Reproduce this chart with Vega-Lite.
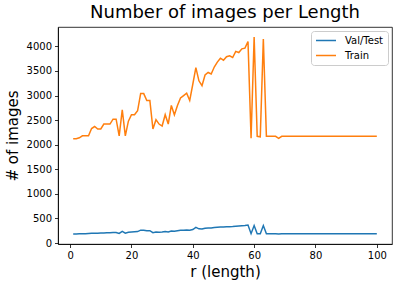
{
  "$schema": "https://vega.github.io/schema/vega-lite/v6.json",
  "width": 334,
  "height": 217,
  "autosize": {"type": "none"},
  "padding": {"left": 58, "top": 27, "right": 8, "bottom": 43},
  "background": "white",
  "config": {
    "font": "DejaVu Sans",
    "view": {"stroke": "black", "strokeWidth": 0.8},
    "axis": {"grid": false, "domainColor": "black", "domainWidth": 0.8, "tickColor": "black", "tickSize": 3.5, "tickWidth": 0.8, "labelFontSize": 10, "labelColor": "black", "titleFontSize": 15, "titleFontWeight": "normal", "titleColor": "black", "labelPadding": 3}
  },
  "title": {"text": "Number of images per Length", "fontSize": 18, "fontWeight": "normal", "color": "black", "offset": 5},
  "data": {"values": [
    {"r":1,"s":"Val/Test","n":185},{"r":2,"s":"Val/Test","n":185},{"r":3,"s":"Val/Test","n":187},{"r":4,"s":"Val/Test","n":190},{"r":5,"s":"Val/Test","n":190},
    {"r":6,"s":"Val/Test","n":193},{"r":7,"s":"Val/Test","n":197},{"r":8,"s":"Val/Test","n":200},{"r":9,"s":"Val/Test","n":200},{"r":10,"s":"Val/Test","n":203},
    {"r":11,"s":"Val/Test","n":205},{"r":12,"s":"Val/Test","n":207},{"r":13,"s":"Val/Test","n":210},{"r":14,"s":"Val/Test","n":212},{"r":15,"s":"Val/Test","n":215},
    {"r":16,"s":"Val/Test","n":195},{"r":17,"s":"Val/Test","n":235},{"r":18,"s":"Val/Test","n":200},{"r":19,"s":"Val/Test","n":220},{"r":20,"s":"Val/Test","n":225},
    {"r":21,"s":"Val/Test","n":228},{"r":22,"s":"Val/Test","n":232},{"r":23,"s":"Val/Test","n":262},{"r":24,"s":"Val/Test","n":262},{"r":25,"s":"Val/Test","n":250},
    {"r":26,"s":"Val/Test","n":250},{"r":27,"s":"Val/Test","n":210},{"r":28,"s":"Val/Test","n":222},{"r":29,"s":"Val/Test","n":220},{"r":30,"s":"Val/Test","n":225},
    {"r":31,"s":"Val/Test","n":235},{"r":32,"s":"Val/Test","n":225},{"r":33,"s":"Val/Test","n":245},{"r":34,"s":"Val/Test","n":240},{"r":35,"s":"Val/Test","n":250},
    {"r":36,"s":"Val/Test","n":258},{"r":37,"s":"Val/Test","n":262},{"r":38,"s":"Val/Test","n":265},{"r":39,"s":"Val/Test","n":262},{"r":40,"s":"Val/Test","n":275},
    {"r":41,"s":"Val/Test","n":320},{"r":42,"s":"Val/Test","n":288},{"r":43,"s":"Val/Test","n":285},{"r":44,"s":"Val/Test","n":300},{"r":45,"s":"Val/Test","n":305},
    {"r":46,"s":"Val/Test","n":305},{"r":47,"s":"Val/Test","n":315},{"r":48,"s":"Val/Test","n":320},{"r":49,"s":"Val/Test","n":325},{"r":50,"s":"Val/Test","n":325},
    {"r":51,"s":"Val/Test","n":330},{"r":52,"s":"Val/Test","n":333},{"r":53,"s":"Val/Test","n":335},{"r":54,"s":"Val/Test","n":340},{"r":55,"s":"Val/Test","n":345},
    {"r":56,"s":"Val/Test","n":350},{"r":57,"s":"Val/Test","n":355},{"r":58,"s":"Val/Test","n":365},{"r":59,"s":"Val/Test","n":190},{"r":60,"s":"Val/Test","n":355},
    {"r":61,"s":"Val/Test","n":188},{"r":62,"s":"Val/Test","n":188},{"r":63,"s":"Val/Test","n":355},{"r":64,"s":"Val/Test","n":188},{"r":65,"s":"Val/Test","n":188},
    {"r":66,"s":"Val/Test","n":188},{"r":67,"s":"Val/Test","n":188},{"r":68,"s":"Val/Test","n":185},{"r":69,"s":"Val/Test","n":188},{"r":70,"s":"Val/Test","n":188},
    {"r":71,"s":"Val/Test","n":188},{"r":72,"s":"Val/Test","n":188},{"r":73,"s":"Val/Test","n":188},{"r":74,"s":"Val/Test","n":188},{"r":75,"s":"Val/Test","n":188},
    {"r":76,"s":"Val/Test","n":188},{"r":77,"s":"Val/Test","n":188},{"r":78,"s":"Val/Test","n":188},{"r":79,"s":"Val/Test","n":188},{"r":80,"s":"Val/Test","n":188},
    {"r":81,"s":"Val/Test","n":188},{"r":82,"s":"Val/Test","n":188},{"r":83,"s":"Val/Test","n":188},{"r":84,"s":"Val/Test","n":188},{"r":85,"s":"Val/Test","n":188},
    {"r":86,"s":"Val/Test","n":188},{"r":87,"s":"Val/Test","n":188},{"r":88,"s":"Val/Test","n":188},{"r":89,"s":"Val/Test","n":188},{"r":90,"s":"Val/Test","n":188},
    {"r":91,"s":"Val/Test","n":188},{"r":92,"s":"Val/Test","n":188},{"r":93,"s":"Val/Test","n":188},{"r":94,"s":"Val/Test","n":188},{"r":95,"s":"Val/Test","n":188},
    {"r":96,"s":"Val/Test","n":188},{"r":97,"s":"Val/Test","n":188},{"r":98,"s":"Val/Test","n":188},{"r":99,"s":"Val/Test","n":188},{"r":100,"s":"Val/Test","n":188},
    {"r":1,"s":"Train","n":2120},{"r":2,"s":"Train","n":2120},{"r":3,"s":"Train","n":2140},{"r":4,"s":"Train","n":2180},{"r":5,"s":"Train","n":2180},
    {"r":6,"s":"Train","n":2180},{"r":7,"s":"Train","n":2330},{"r":8,"s":"Train","n":2370},{"r":9,"s":"Train","n":2320},{"r":10,"s":"Train","n":2320},
    {"r":11,"s":"Train","n":2420},{"r":12,"s":"Train","n":2420},{"r":13,"s":"Train","n":2420},{"r":14,"s":"Train","n":2520},{"r":15,"s":"Train","n":2520},
    {"r":16,"s":"Train","n":2180},{"r":17,"s":"Train","n":2710},{"r":18,"s":"Train","n":2180},{"r":19,"s":"Train","n":2480},{"r":20,"s":"Train","n":2610},
    {"r":21,"s":"Train","n":2610},{"r":22,"s":"Train","n":2690},{"r":23,"s":"Train","n":3040},{"r":24,"s":"Train","n":3040},{"r":25,"s":"Train","n":2900},
    {"r":26,"s":"Train","n":2900},{"r":27,"s":"Train","n":2320},{"r":28,"s":"Train","n":2510},{"r":29,"s":"Train","n":2420},{"r":30,"s":"Train","n":2380},
    {"r":31,"s":"Train","n":2610},{"r":32,"s":"Train","n":2420},{"r":33,"s":"Train","n":2800},{"r":34,"s":"Train","n":2610},{"r":35,"s":"Train","n":2800},
    {"r":36,"s":"Train","n":2950},{"r":37,"s":"Train","n":3000},{"r":38,"s":"Train","n":3050},{"r":39,"s":"Train","n":2900},{"r":40,"s":"Train","n":3230},
    {"r":41,"s":"Train","n":3570},{"r":42,"s":"Train","n":3300},{"r":43,"s":"Train","n":3200},{"r":44,"s":"Train","n":3420},{"r":45,"s":"Train","n":3470},
    {"r":46,"s":"Train","n":3440},{"r":47,"s":"Train","n":3580},{"r":48,"s":"Train","n":3680},{"r":49,"s":"Train","n":3760},{"r":50,"s":"Train","n":3720},
    {"r":51,"s":"Train","n":3790},{"r":52,"s":"Train","n":3810},{"r":53,"s":"Train","n":3775},{"r":54,"s":"Train","n":3900},{"r":55,"s":"Train","n":3875},
    {"r":56,"s":"Train","n":3950},{"r":57,"s":"Train","n":3965},{"r":58,"s":"Train","n":4100},{"r":59,"s":"Train","n":2130},{"r":60,"s":"Train","n":4190},
    {"r":61,"s":"Train","n":2170},{"r":62,"s":"Train","n":2160},{"r":63,"s":"Train","n":4150},{"r":64,"s":"Train","n":2170},{"r":65,"s":"Train","n":2170},
    {"r":66,"s":"Train","n":2170},{"r":67,"s":"Train","n":2170},{"r":68,"s":"Train","n":2130},{"r":69,"s":"Train","n":2170},{"r":70,"s":"Train","n":2170},
    {"r":71,"s":"Train","n":2170},{"r":72,"s":"Train","n":2170},{"r":73,"s":"Train","n":2170},{"r":74,"s":"Train","n":2170},{"r":75,"s":"Train","n":2170},
    {"r":76,"s":"Train","n":2170},{"r":77,"s":"Train","n":2170},{"r":78,"s":"Train","n":2170},{"r":79,"s":"Train","n":2170},{"r":80,"s":"Train","n":2170},
    {"r":81,"s":"Train","n":2170},{"r":82,"s":"Train","n":2170},{"r":83,"s":"Train","n":2170},{"r":84,"s":"Train","n":2170},{"r":85,"s":"Train","n":2170},
    {"r":86,"s":"Train","n":2170},{"r":87,"s":"Train","n":2170},{"r":88,"s":"Train","n":2170},{"r":89,"s":"Train","n":2170},{"r":90,"s":"Train","n":2170},
    {"r":91,"s":"Train","n":2170},{"r":92,"s":"Train","n":2170},{"r":93,"s":"Train","n":2170},{"r":94,"s":"Train","n":2170},{"r":95,"s":"Train","n":2170},
    {"r":96,"s":"Train","n":2170},{"r":97,"s":"Train","n":2170},{"r":98,"s":"Train","n":2170},{"r":99,"s":"Train","n":2170},{"r":100,"s":"Train","n":2170}
  ]},
  "mark": {"type": "line", "strokeWidth": 1.5, "clip": true},
  "encoding": {
    "x": {"field": "r", "type": "quantitative", "title": "r (length)",
      "scale": {"domain": [-3.95, 104.95], "nice": false, "zero": false},
      "axis": {"values": [0, 20, 40, 60, 80, 100], "format": "d", "titlePadding": 4}},
    "y": {"field": "n", "type": "quantitative", "title": "# of images",
      "scale": {"domain": [-20, 4395], "nice": false, "zero": false},
      "axis": {"values": [0, 500, 1000, 1500, 2000, 2500, 3000, 3500, 4000], "format": "d", "titlePadding": 6}},
    "color": {"field": "s", "type": "nominal", "title": null,
      "scale": {"domain": ["Val/Test", "Train"], "range": ["#1f77b4", "#ff7f0e"]},
      "legend": {"orient": "top-right", "offset": 4, "symbolType": "stroke", "symbolSize": 400, "symbolStrokeWidth": 1.5, "clipHeight": 11,
        "labelFontSize": 10, "labelColor": "black", "strokeColor": "#cccccc", "fillColor": "white", "cornerRadius": 3, "padding": 4, "rowPadding": 4, "labelOffset": 8}}
  }
}
